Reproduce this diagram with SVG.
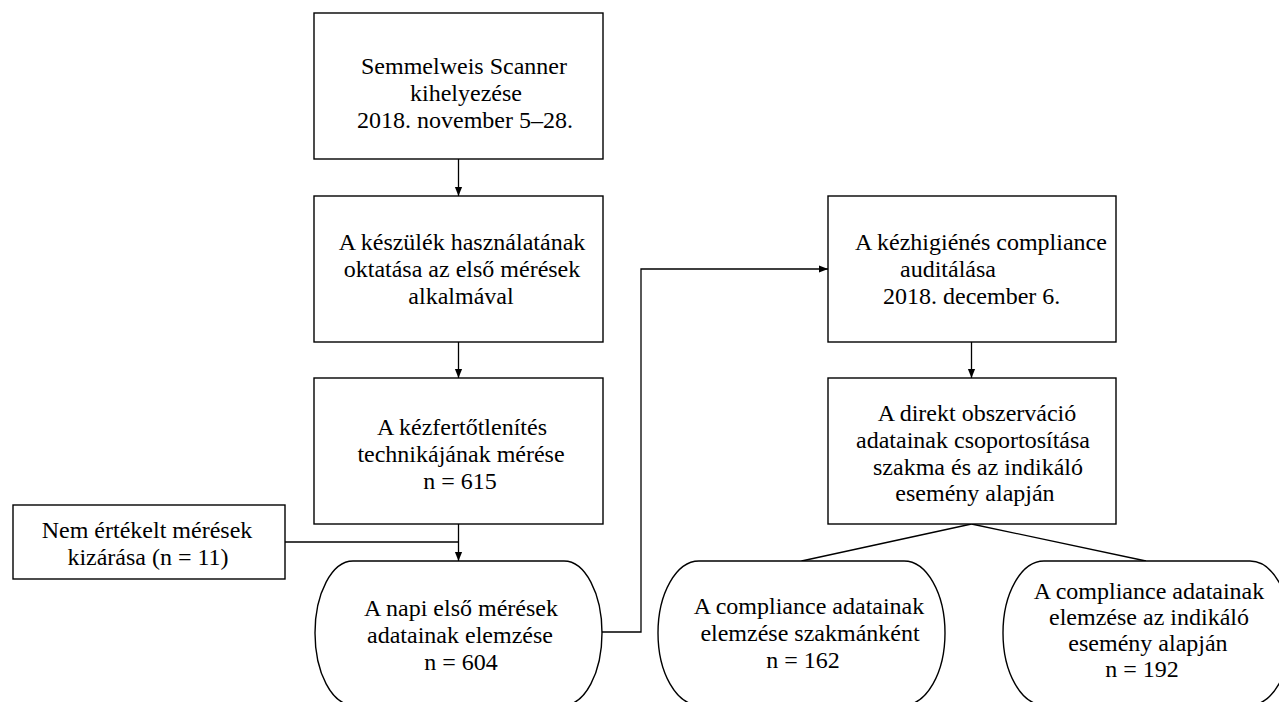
<svg xmlns="http://www.w3.org/2000/svg" width="1279" height="702" viewBox="0 0 1279 702">
<defs>
<style>
.box{fill:#fff;stroke:#000;stroke-width:1.4}
.t{font-family:"Liberation Serif","Times New Roman",serif;font-size:24px;fill:#000;text-anchor:middle}
.ts{font-family:"Liberation Serif","Times New Roman",serif;font-size:24px;fill:#000}
.c{fill:none;stroke:#000;stroke-width:1.3}
</style>
<marker id="ah" viewBox="0 0 10 10" refX="10" refY="5" markerWidth="9" markerHeight="9" markerUnits="userSpaceOnUse" orient="auto">
<path d="M0,1 L10,5 L0,9 Z" fill="#000"/>
</marker>
</defs>
<rect width="1279" height="702" fill="#fff"/>
<g id="connectors">
<line class="c" x1="458.5" y1="159" x2="458.5" y2="196" marker-end="url(#ah)"/>
<line class="c" x1="458.5" y1="342" x2="458.5" y2="378" marker-end="url(#ah)"/>
<line class="c" x1="458.5" y1="524" x2="458.5" y2="561" marker-end="url(#ah)"/>
<polyline class="c" points="285,542 458.5,542"/>
<polyline class="c" points="602,632 641,632 641,269 828,269" marker-end="url(#ah)"/>
<line class="c" x1="971.5" y1="342" x2="971.5" y2="378" marker-end="url(#ah)"/>
<line class="c" x1="971.5" y1="524" x2="801.5" y2="561"/>
<line class="c" x1="971.5" y1="524" x2="1146" y2="561"/>
</g>
<g id="n1">
<rect class="box" x="314" y="13" width="289" height="146"/>
<text class="t" x="464" y="74">Semmelweis Scanner</text>
<text class="t" x="466" y="101">kihelyezése</text>
<text class="t" x="465" y="128">2018. november 5–28.</text>
</g>
<g id="n2">
<rect class="box" x="314" y="196" width="289" height="146"/>
<text class="t" x="462" y="250">A készülék használatának</text>
<text class="t" x="462" y="277">oktatása az első mérések</text>
<text class="t" x="461" y="304">alkalmával</text>
</g>
<g id="n3">
<rect class="box" x="314" y="378" width="289" height="146"/>
<text class="t" x="462" y="435">A kézfertőtlenítés</text>
<text class="t" x="461" y="462">technikájának mérése</text>
<text class="t" x="460" y="489">n = 615</text>
</g>
<g id="n4">
<rect class="box" x="13" y="505" width="272" height="74"/>
<text class="t" x="147" y="538">Nem értékelt mérések</text>
<text class="t" x="148" y="565">kizárása (n = 11)</text>
</g>
<g id="n5">
<path class="box" d="M353,561 H564 A38,72 0 0 1 564,705 H353 A38,72 0 0 1 353,561 Z"/>
<text class="t" x="461" y="616">A napi első mérések</text>
<text class="t" x="460" y="643">adatainak elemzése</text>
<text class="t" x="461" y="670">n = 604</text>
</g>
<g id="n6">
<rect class="box" x="828" y="196" width="288" height="146"/>
<text class="ts" x="855" y="250">A kézhigiénés compliance</text>
<text class="ts" x="900" y="277">auditálása</text>
<text class="ts" x="883" y="304">2018. december 6.</text>
</g>
<g id="n7">
<rect class="box" x="828" y="378" width="288" height="146"/>
<text class="t" x="977" y="421">A direkt obszerváció</text>
<text class="t" x="973" y="448">adatainak csoportosítása</text>
<text class="t" x="978" y="475">szakma és az indikáló</text>
<text class="t" x="975" y="501">esemény alapján</text>
</g>
<g id="n8">
<path class="box" d="M699,561 H904 A41,72 0 0 1 904,705 H699 A41,72 0 0 1 699,561 Z"/>
<text class="t" x="809" y="614">A compliance adatainak</text>
<text class="t" x="810" y="641">elemzése szakmánként</text>
<text class="t" x="803" y="668">n = 162</text>
</g>
<g id="n9">
<path class="box" d="M1044,561 H1250 A41,72 0 0 1 1250,705 H1044 A41,72 0 0 1 1044,561 Z"/>
<text class="t" x="1149" y="599">A compliance adatainak</text>
<text class="t" x="1149" y="625">elemzése az indikáló</text>
<text class="t" x="1148" y="651">esemény alapján</text>
<text class="t" x="1142" y="677">n = 192</text>
</g>
</svg>
